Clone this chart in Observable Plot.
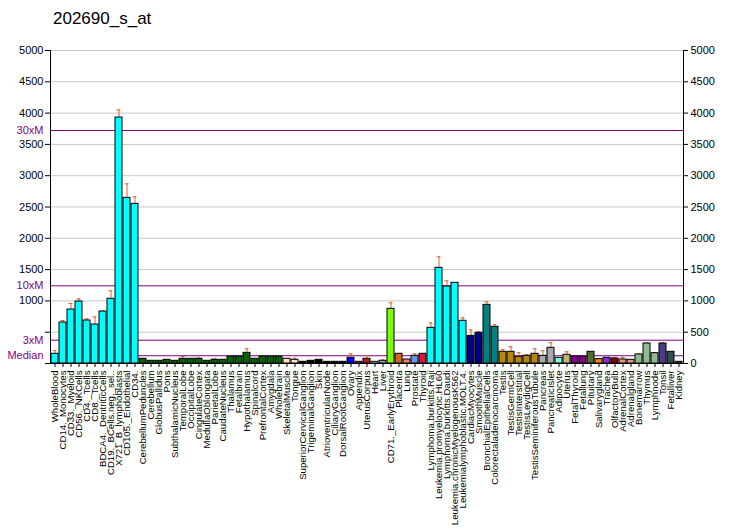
<!DOCTYPE html>
<html><head><meta charset="utf-8">
<script src="https://cdn.jsdelivr.net/npm/d3@7"></script>
<script src="https://cdn.jsdelivr.net/npm/@observablehq/plot@0.6"></script>
<style>
body{margin:0;background:#fff;}
#wrap{position:relative;width:732px;height:530px;overflow:hidden;}
#title{position:absolute;left:53px;top:9px;font:17px "Liberation Sans",Arial,sans-serif;color:#000;}
</style></head><body>
<div id="wrap"><div id="title">202690_s_at</div></div>
<script>
const names = ["WholeBlood","CD14._Monocytes","CD33._Myeloid","CD56._NKCells","CD4._Tcells","CD8._Tcells","BDCA4._DentriticCells","CD19._BCells.neg._sel..","X721_B_lymphoblasts","CD105._Endothelial","CD34.",
"CerebellumPeduncles","Cerebellum","GlobusPallidus","Pons","SubthalamicNucleus","TemporalLobe","OccipitalLobe","CingulateCortex","MedullaOblongata","ParietalLobe","CaudateNucleus","Thalamus","Fetalbrain","Hypothalamus","Spinalcord","PrefrontalCortex","Amygdala","Wholebrain",
"SkeletalMuscle","Tongue","SuperiorCervicalGanglion","TrigeminalGanglion","Skin","AtrioventricularNode","CiliaryGanglion","DorsalRootGanglion","Ovary","Appendix","UterusCorpus","Heart","Liver",
"CD71._EarlyErythroid","Placenta","Lung","Prostate","Thyroid",
"Lymphoma.burkitts.Raji","Leukemia.promyelocytic.HL60","Lymphoma.burkitts.Daudi","Leukemia.chronicMyelogenousK562","Leukemialymphoblastic.MOLT.4.",
"CardiacMyocytes","SmoothMuscle","BronchialEpithelialCells","Colorectaladenocarcinoma",
"Testis","TestisGermCell","TestisInterstitial","TestisLeydigCell","TestisSeminiferousTubule",
"Pancreas","PancreaticIslet","Adipocyte","Uterus","FetalThyroid","Fetallung","Pituitary","Salivarygland","Trachea","OlfactoryBulb","AdrenalCortex","Adrenalgland","Bonemarrow","Thymus","Lymphnode","Tonsil","Fetalliver","Kidney"];

const values = [155,655,862,990,687,623,830,1033,3929,2646,2550,
75,43,43,59,43,75,75,75,43,59,59,112,112,170,75,112,112,112,
75,59,27,43,59,27,27,27,91,27,75,27,43,
873,155,64,123,155,
570,1528,1230,1289,682,
442,490,937,586,
187,187,107,123,155,
123,251,91,139,112,112,187,69,91,80,64,59,144,319,165,319,187,27];

const errHigh = [207,687,958,1033,713,745,841,1161,4051,2870,2662,
null,null,null,null,null,112,null,88,null,75,null,null,null,234,null,null,null,null,
null,85,null,null,null,null,null,null,155,null,123,null,59,
969,null,null,155,null,
650,1704,1321,null,730,
538,511,985,618,
219,267,171,139,235,
203,331,null,187,null,null,null,80,null,91,96,null,155,330,176,330,null,null];

const groups = ["blood","blood","blood","blood","blood","blood","blood","blood","blood","blood","blood",
"brain","brain","brain","brain","brain","brain","brain","brain","brain","brain","brain","brain","brain","brain","brain","brain","brain","brain",
"muscle","muscle","ganglion","ganglion","ganglion","ganglion","ganglion","ganglion","ovary","appendix","uteruscorpus","heart","liver",
"erythroid","placenta","lung","prostate","thyroid",
"cancer","cancer","cancer","cancer","cancer",
"myocyte","myocyte","epithelial","epithelial",
"testis","testis","testis","testis","testis",
"pancreas","pancreas","adipocyte","uterus","fetal","fetal","pituitary","salivary","trachea","olfactory","adrenal","adrenal","lymphoid","lymphoid","lymphoid","tonsil","fetalliver","fetalliver"];

const groupKeys = ["blood","brain","muscle","ganglion","ovary","appendix","uteruscorpus","heart","liver","erythroid","placenta","lung","prostate","thyroid","cancer","myocyte","epithelial","testis","pancreas","adipocyte","uterus","fetal","pituitary","salivary","trachea","olfactory","adrenal","lymphoid","tonsil","fetalliver"];
const groupColors = ["#00FFFF","#006400","#FFE4C4","#000000","#0000FF","#8A2BE2","#B22222","#F5DEB3","#86AFC0","#7CFC00","#D2691E","#FA8072","#6495ED","#DC143C","#00FFFF","#000080","#008080","#B8860B","#A9A9A9","#7FFFD4","#BDB76B","#8B008B","#556B2F","#FF8C00","#8A2BE2","#8B0000","#E9967A","#8FBC8F","#483D8B","#2F4F4F"];

const yTicks = [0,500,1000,1500,2000,2500,3000,3500,4000,4500,5000];
const gridTicks = [500,1000,1500,2000,2500,3000,3500,4000,4500,5000];
const lineLabels = ["Median","3xM","10xM","30xM"];
const lineValues = [124,372,1241,3722];

const data = names.map((name, i) => ({name, value: values[i], err: errHigh[i], group: groups[i]}));
const errData = data.filter(d => d.err != null);
const errColor = "#CC6633";
const purple = "#800080";

const chart = Plot.plot({
  width: 732, height: 530,
  marginTop: 50, marginBottom: 167, marginLeft: 50, marginRight: 49,
  style: {fontFamily: "'Liberation Sans', Arial, sans-serif", fontSize: "11px", background: "white", color: "black"},
  x: {domain: names, paddingInner: 0.17, paddingOuter: 0.08},
  y: {domain: [0, 5000]},
  color: {domain: groupKeys, range: groupColors},
  marks: [
    Plot.ruleY(gridTicks, {stroke: "#c8c8c8", strokeWidth: 1}),
    Plot.ruleY(lineValues, {stroke: purple, strokeWidth: 1}),
    Plot.ruleX(errData, {x: "name", y1: "value", y2: "err", stroke: errColor, strokeWidth: 1}),
    Plot.tickY(errData, {x: "name", y: "err", stroke: errColor, strokeWidth: 1, insetLeft: 1.5, insetRight: 1.5}),
    Plot.barY(data, {x: "name", y: "value", fill: "group", stroke: "black", strokeWidth: 1}),
    Plot.ruleY([0], {stroke: "black"}),
    Plot.frame({anchor: "left", stroke: "black"}),
    Plot.frame({anchor: "right", stroke: "black"}),
    Plot.axisY({anchor: "left", ticks: yTicks, tickFormat: d => d >= 1000 ? String(d) : "", tickSize: 5, tickPadding: 2, label: null, fontSize: 11}),
    Plot.axisY({anchor: "right", ticks: yTicks, tickFormat: d => String(d), tickSize: 4, tickPadding: 3, label: null, fontSize: 11}),
    Plot.axisX({tickRotate: -90, tickSize: 4, tickPadding: 3, label: null, fontSize: 9.6, fontFamily: "'Liberation Sans Narrow', 'Liberation Sans', Arial, sans-serif"}),
    Plot.text(lineLabels, {y: lineValues, text: d => d, frameAnchor: "left", dx: -7, textAnchor: "end", fill: purple, fontSize: 11})
  ]
});
document.getElementById("wrap").appendChild(chart);
</script>
</body></html>
